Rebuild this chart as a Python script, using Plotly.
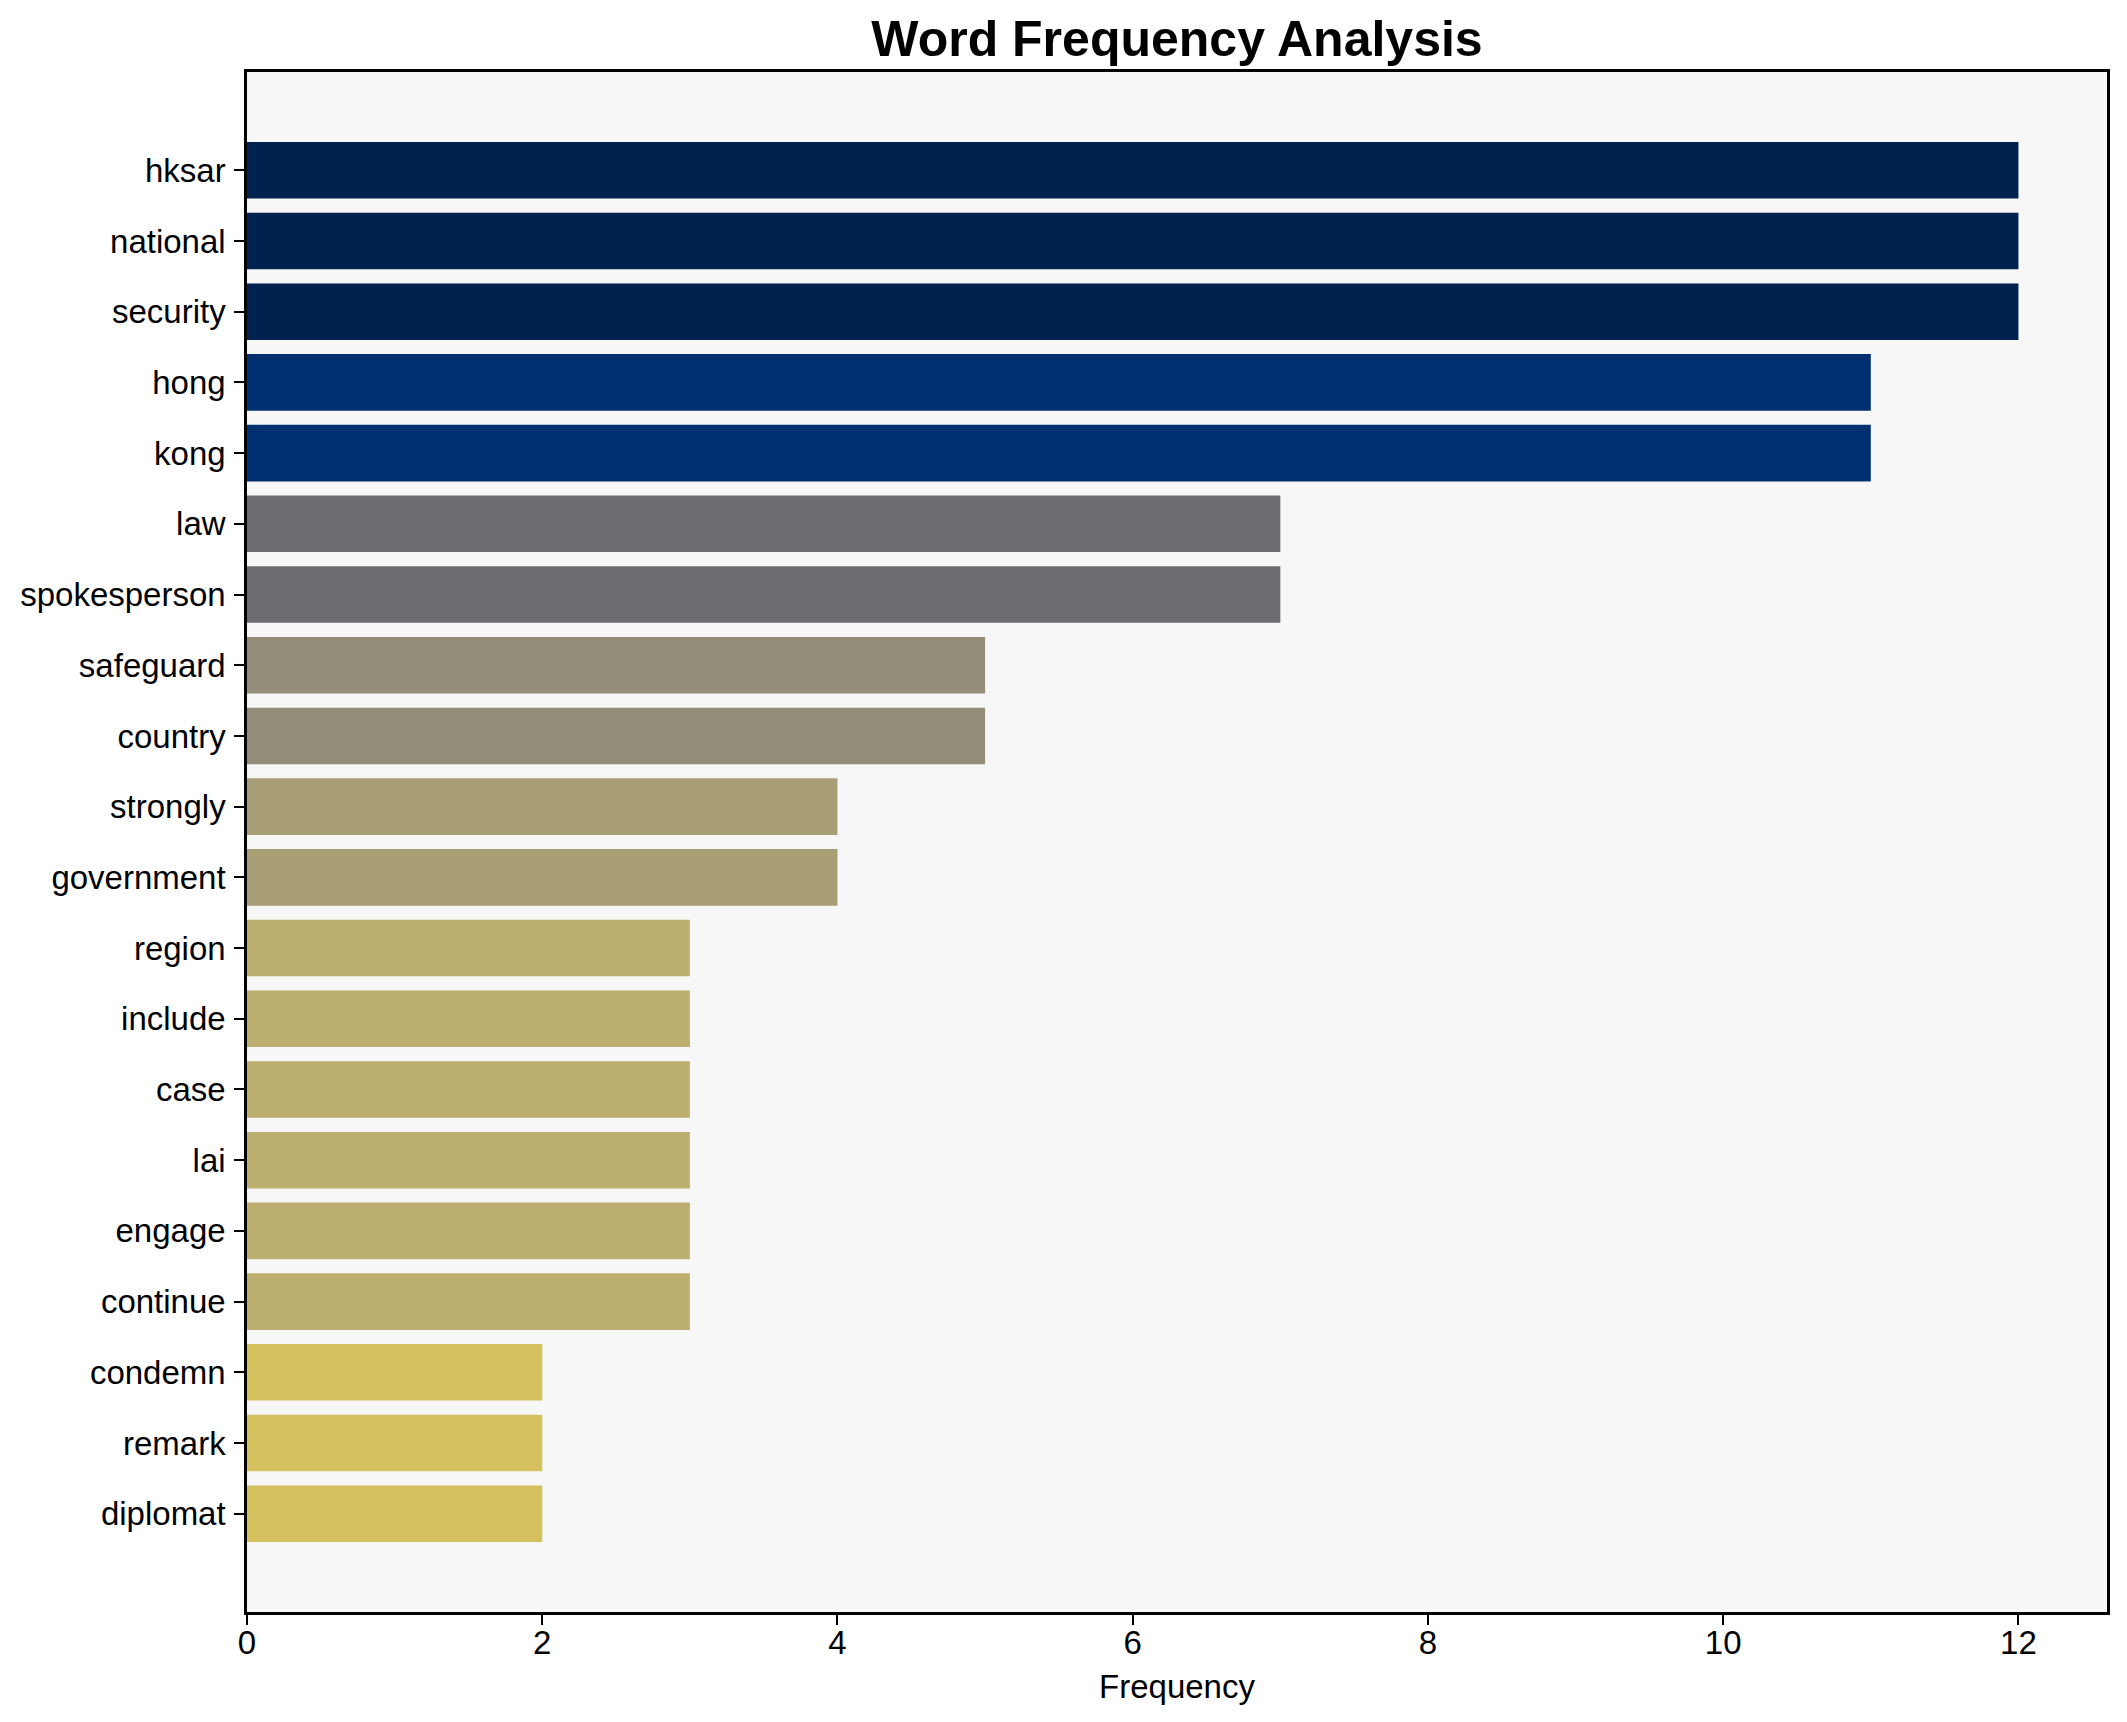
import plotly.graph_objects as go

words = ["hksar", "national", "security", "hong", "kong", "law", "spokesperson",
         "safeguard", "country", "strongly", "government", "region", "include",
         "case", "lai", "engage", "continue", "condemn", "remark", "diplomat"]
freqs = [12, 12, 12, 11, 11, 7, 7, 5, 5, 4, 4, 3, 3, 3, 3, 3, 3, 2, 2, 2]
x_ticks = [0, 2, 4, 6, 8, 10, 12]

# colour per frequency level (cividis-like)
level_colors = {12: "#00224e", 11: "#00306f", 7: "#6b6c71", 5: "#938c78",
                4: "#a79e75", 3: "#bcae6e", 2: "#d4c05f"}
bar_colors = [level_colors[f] for f in freqs]

FONT = "Liberation Sans, Arial, Helvetica, sans-serif"

# the page body has an 8px default margin; compensate
OFF = 8
W, H = 2127 - OFF, 1722 - OFF

fig = go.Figure(go.Bar(
    x=freqs, y=words, orientation="h",
    marker=dict(color=bar_colors, line=dict(width=0)),
    width=0.8,
))

n = len(words)
fig.update_layout(
    width=W, height=H,
    margin=dict(l=247 - OFF, r=20, t=72 - OFF, b=110),
    paper_bgcolor="white", plot_bgcolor="#f7f7f7",
    showlegend=False,
    font=dict(family=FONT, size=33, color="black"),
    title=dict(text="<b>Word Frequency Analysis</b>", x=(1177 - OFF) / W,
               xanchor="center", y=1 - 30 / H, yanchor="middle",
               font=dict(family=FONT, size=50, color="black")),
)
fig.update_xaxes(
    range=[0, 12.6], tickvals=x_ticks, ticktext=[str(v) for v in x_ticks],
    showgrid=False, zeroline=False,
    showline=True, linecolor="black", linewidth=2.5, mirror=True,
    ticks="outside", ticklen=10, tickwidth=2, tickcolor="black",
    tickfont=dict(size=33), ticklabelstandoff=-10,
    title=dict(text="Frequency", font=dict(size=33), standoff=15),
)
fig.update_yaxes(
    type="category", categoryorder="array", categoryarray=words,
    range=[n - 1 + 0.4 + 0.99, -0.4 - 0.99],
    showgrid=False, zeroline=False,
    showline=True, linecolor="black", linewidth=2.5, mirror=True,
    ticks="outside", ticklen=10, tickwidth=2, tickcolor="black",
    tickfont=dict(size=33), ticklabelstandoff=2,
)

fig.write_html("out.html")
